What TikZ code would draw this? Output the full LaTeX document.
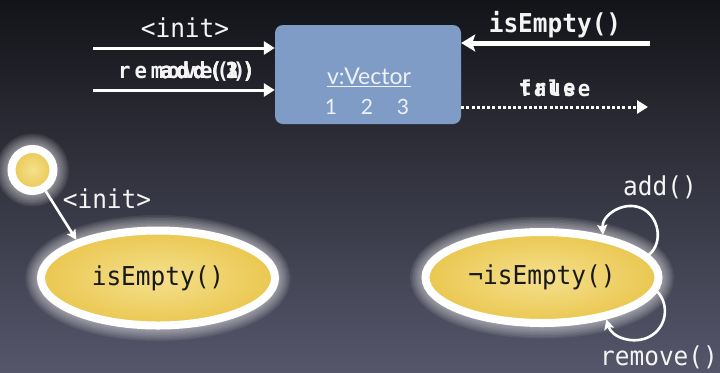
\documentclass[tikz,border=0pt]{standalone}
\usepackage{fontspec}
\setmainfont{Lato}
\newfontfamily\codefont[FakeStretch=0.94]{DejaVu Sans Mono}
\usetikzlibrary{arrows.meta,shapes.geometric}

\definecolor{bgtop}{HTML}{131418}
\definecolor{bgbot}{HTML}{55566A}
\definecolor{boxblue}{HTML}{7E9CC6}
\definecolor{stateyel}{HTML}{EAC750}
\definecolor{stateyellight}{HTML}{F5E08E}
\definecolor{labelwhite}{HTML}{F4F4F4}
\definecolor{boxtext}{HTML}{EEF2F8}

\tikzset{
  lbl/.style={text=labelwhite, inner sep=0pt,
    font=\codefont\fontsize{26bp}{30bp}\selectfont},
  lblbold/.style={text=labelwhite, inner sep=0pt,
    font=\codefont\bfseries\fontsize{26bp}{30bp}\selectfont},
  mashed/.style={text=labelwhite, inner sep=0pt,
    font=\codefont\bfseries\fontsize{22bp}{26bp}\selectfont\addfontfeature{LetterSpace=18}},
  msg/.style={draw=white, line width=3bp, -{Triangle[length=11bp,width=13bp]}},
  msgthick/.style={draw=white, line width=5bp, -{Stealth[length=14bp,width=17bp,inset=3bp]}},
  reply/.style={draw=white, line width=3bp, dash pattern=on 3bp off 2.2bp,
    -{Triangle[length=11bp,width=13bp]}},
  state/.style={ellipse, draw=white, line width=8bp, inner sep=0pt, outer sep=4bp,
    inner color=stateyellight, outer color=stateyel,
    text=black!90, font=\codefont\fontsize{26bp}{30bp}\selectfont},
  trans/.style={draw=white, line width=2.6bp, -{Stealth[length=10bp,width=10bp,inset=2bp]}},
}

\begin{document}
\begin{tikzpicture}[x=1bp,y=-1bp]
  % backdrop
  \shade[top color=bgtop, bottom color=bgbot] (0,0) rectangle (720,372);
  \useasboundingbox (0,0) rectangle (720,372);

  % object box
  \node[rounded corners=8bp, fill=boxblue, minimum width=186bp, minimum height=99bp,
        inner sep=0pt] (vec) at (368,74.5) {};
  \node[text=boxtext, inner sep=0pt, font=\fontsize{23bp}{26bp}\selectfont]
        (vname) at (369,77) {\underline{v:Vector}};
  \node[text=boxtext, inner sep=0pt, font=\fontsize{21bp}{24bp}\selectfont]
        (vvals) at (367,107) {\makebox[36bp]{1}\makebox[36bp]{2}\makebox[36bp]{3}};

  % incoming messages on the left
  \coordinate (a1) at (93,48);
  \coordinate (a2) at (93,90);
  \draw[msg] (a1) -- (a1 -| vec.west);
  \draw[msg] (a2) -- (a2 -| vec.west);
  \node[lbl] (linit) at (185,28) {<init>};
  \node[mashed, anchor=west] (lrem) at (118,72) {remove()};
  \node[mashed, anchor=east] (ladd1) at (255,72) {add(1)};
  \node[mashed, anchor=east] (ladd2) at (255,72) {add(2)};
  \node[mashed, anchor=east] (ladd3) at (255,72) {add(3)};

  % query and its answer on the right
  \coordinate (q) at (650,43);
  \coordinate (r) at (648,107);
  \draw[msgthick] (q) -- (q -| vec.east);
  \draw[reply] (vec.east |- r) -- (r);
  \node[lblbold] (lempty) at (555,25) {isEmpty()};
  \node[lblbold, anchor=west, font=\codefont\bfseries\fontsize{22bp}{26bp}\selectfont\addfontfeature{LetterSpace=10}]
        (lfalse) at (519,88) {false};
  \node[lblbold, anchor=west, font=\codefont\bfseries\fontsize{22bp}{26bp}\selectfont\addfontfeature{LetterSpace=10}]
        (ltrue) at (519,88) {true};

  % soft glow around the states
  \foreach \w in {10,13,...,31} {
    \draw[white, opacity=0.07, line width=\w bp] (158,278) ellipse [x radius=117, y radius=47.5];
    \draw[white, opacity=0.07, line width=\w bp] (542,277.5) ellipse [x radius=116.5, y radius=45.5];
    \draw[white, opacity=0.07, line width=\w bp] (32.5,170) circle [radius=21];
  }

  % states
  \node[circle, draw=white, line width=8bp, inner color=stateyellight,
        outer color=stateyel, minimum size=42bp, inner sep=0pt, outer sep=4bp] (init) at (32.5,170) {};
  \node[state, minimum width=234bp, minimum height=95bp] (e1) at (158,278) {isEmpty()};
  \node[state, minimum width=233bp, minimum height=91bp] (e2) at (542,277.5) {¬isEmpty()};

  % transitions
  \draw[trans] (init.-58) -- (e1.155);
  \node[lbl] (tinit) at (107,199) {<init>};

  \coordinate (addtop) at (641,208);
  \draw[trans] (e2.12) .. controls +(14.9,-12.5) and +(17.9,7.6) .. (addtop)
               .. controls +(-17.9,-7.6) and +(-1.4,-19.4) .. (e2.35);
  \node[lbl] (tadd) at (660,187) {add()};

  \coordinate (rembot) at (650,336.4);
  \draw[trans] (e2.-7) .. controls +(12.5,13.9) and +(16.3,-9.0) .. (rembot)
               .. controls +(-16.3,9.0) and +(5.1,17.9) .. (e2.-33);
  \node[lbl] (trem) at (659,357) {remove()};
\end{tikzpicture}
\end{document}
